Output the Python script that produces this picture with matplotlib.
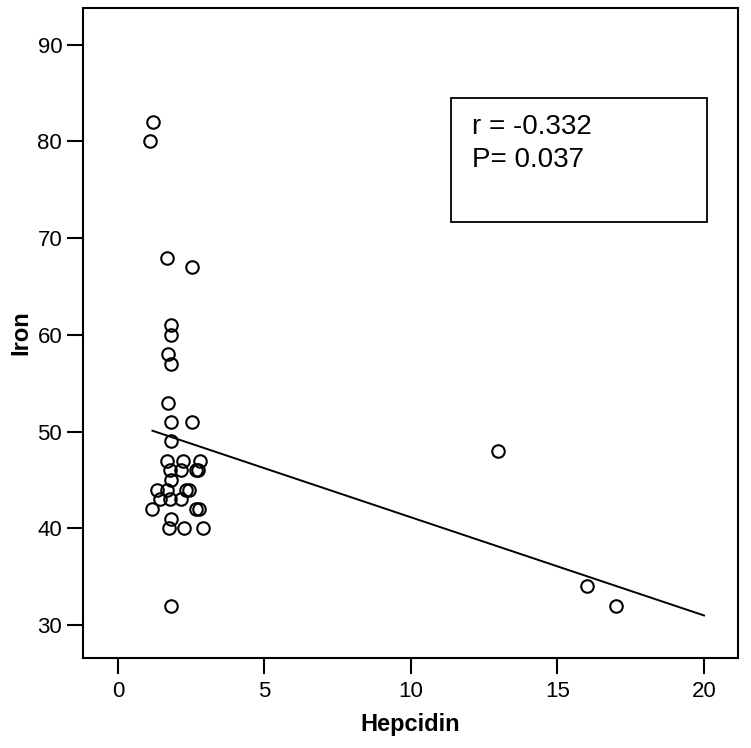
import matplotlib
matplotlib.use("Agg")
import matplotlib.pyplot as plt
from matplotlib.patches import Rectangle

# hepcidin / iron pairs
hepcidin = [1.21, 1.11, 1.69, 2.53, 1.80, 1.82, 1.72, 1.80, 1.72, 1.83, 2.54,
            1.80, 1.68, 2.23, 2.80, 1.77, 2.15, 2.66, 2.72, 1.80, 1.32, 1.69,
            2.32, 2.43, 1.43, 1.77, 2.14, 1.18, 2.68, 2.76, 1.81, 1.75, 2.25,
            2.89, 1.81, 12.97, 16.0, 17.0]
iron = [82, 80, 68, 67, 61, 60, 58, 57, 53, 51, 51,
        49, 47, 47, 47, 46, 46, 46, 46, 45, 44, 44,
        44, 44, 43, 43, 43, 42, 42, 42, 41, 40, 40,
        40, 32, 48, 34, 32]
fit_x = [1.18, 20.0]
fit_y = [50.1, 31.0]
stats_text = ["r = -0.332", "P= 0.037"]

plt.rcParams["font.family"] = ["Liberation Sans", "DejaVu Sans"]

fig = plt.figure(figsize=(7.51, 7.48), dpi=100)
ax = fig.add_axes([0.1105, 0.1203, 0.8722, 0.869])

ax.plot(hepcidin, iron, "o", ms=9, mfc="none", mec="black", mew=1.5,
        linestyle="none")
ax.plot(fit_x, fit_y, color="black", lw=1.4)

ax.set_xlim(-1.19, 21.16)
ax.set_ylim(26.6, 93.8)
ax.set_xticks([0, 5, 10, 15, 20])
ax.set_yticks([30, 40, 50, 60, 70, 80, 90])
for s in ax.spines.values():
    s.set_linewidth(1.5)
ax.tick_params(axis="both", length=11.5, width=1.5, labelsize=16,
               direction="out")
ax.tick_params(axis="x", pad=5)
ax.tick_params(axis="y", pad=3.5)
ax.set_xlabel("Hepcidin", fontsize=17, fontweight="bold")
ax.set_ylabel("Iron", fontsize=17, fontweight="bold")
ax.xaxis.set_label_coords(0.5, -0.084)
ax.yaxis.set_label_coords(-0.078, 0.5)

box = Rectangle((11.37, 71.7), 8.73, 12.8, fill=False, ec="black", lw=1.3)
ax.add_patch(box)
ax.text(12.1, 81.45, stats_text[0], fontsize=20, va="center")
ax.text(12.1, 78.05, stats_text[1], fontsize=20, va="center")

fig.savefig("out.png", dpi=100, facecolor="white")
